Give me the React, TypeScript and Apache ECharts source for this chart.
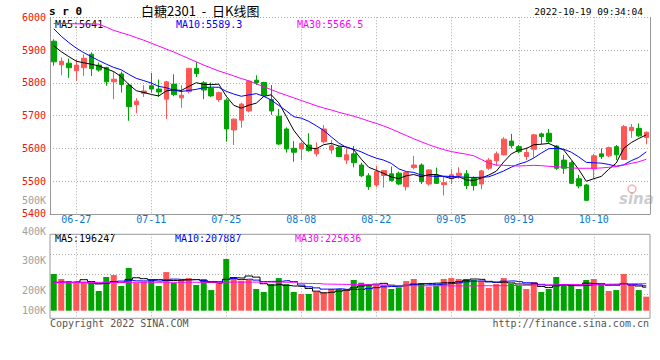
import React, { useEffect, useRef } from 'react';
import * as echarts from 'echarts';

const dates = [
  '06-22','06-23','06-24','06-27','06-28','06-29','06-30','07-01','07-04','07-05',
  '07-06','07-07','07-08','07-11','07-12','07-13','07-14','07-15','07-18','07-19',
  '07-20','07-21','07-22','07-25','07-26','07-27','07-28','07-29','08-01','08-02',
  '08-03','08-04','08-05','08-08','08-09','08-10','08-11','08-12','08-15','08-16',
  '08-17','08-18','08-19','08-22','08-23','08-24','08-25','08-26','08-29','08-30',
  '08-31','09-01','09-02','09-05','09-06','09-07','09-08','09-09','09-13','09-14',
  '09-15','09-16','09-19','09-20','09-21','09-22','09-23','09-26','09-27','09-28',
  '09-29','09-30','10-10','10-11','10-12','10-13','10-14','10-17','10-18','10-19',
];

const labelDates = ['06-27', '07-11', '07-25', '08-08', '08-22', '09-05', '09-19', '10-10'];

const opens = [
  5927,5855,5860,5837,5846,5887,5854,5847,5803,5827,
  5793,5733,5768,5791,5781,5750,5796,5754,5773,5844,
  5800,5783,5749,5747,5656,5686,5714,5808,5801,5749,
  5698,5659,5600,5598,5610,5583,5620,5595,5603,5564,
  5583,5549,5516,5488,5517,5522,5524,5483,5541,5549,
  5491,5519,5489,5507,5517,5522,5509,5491,5539,5562,
  5580,5622,5605,5575,5597,5644,5646,5607,5564,5556,
  5507,5488,5537,5583,5577,5605,5566,5654,5661,5633,
];
const closes = [
  5864,5866,5846,5854,5875,5843,5839,5803,5811,5795,
  5727,5744,5775,5781,5772,5803,5764,5762,5844,5828,
  5778,5760,5770,5659,5689,5735,5805,5801,5762,5714,
  5613,5598,5588,5615,5593,5600,5659,5608,5575,5580,
  5556,5516,5483,5529,5532,5502,5491,5526,5549,5498,
  5534,5493,5495,5519,5524,5486,5486,5531,5564,5583,
  5628,5608,5590,5587,5641,5636,5620,5539,5539,5493,
  5485,5441,5577,5575,5602,5580,5666,5664,5638,5649,
];
const lows = [
  5852,5823,5815,5806,5821,5821,5834,5791,5750,5770,
  5684,5707,5757,5770,5757,5689,5759,5724,5768,5818,
  5750,5757,5742,5620,5610,5663,5710,5793,5757,5702,
  5610,5587,5559,5564,5590,5575,5615,5583,5573,5552,
  5542,5512,5473,5481,5480,5498,5488,5471,5536,5491,
  5486,5491,5456,5491,5507,5476,5471,5475,5534,5546,
  5578,5600,5585,5564,5572,5613,5615,5534,5522,5491,
  5478,5440,5507,5568,5573,5564,5564,5632,5634,5612,
];
const highs = [
  5933,5877,5874,5871,5887,5893,5862,5849,5834,5834,
  5798,5753,5793,5830,5810,5806,5826,5793,5846,5864,
  5805,5801,5773,5752,5691,5739,5808,5823,5803,5793,
  5720,5664,5622,5620,5646,5618,5671,5625,5608,5600,
  5607,5556,5524,5546,5534,5544,5529,5529,5577,5554,
  5536,5541,5514,5536,5542,5534,5514,5534,5570,5590,
  5634,5644,5610,5603,5644,5648,5659,5610,5580,5561,
  5519,5491,5583,5600,5605,5610,5671,5674,5676,5651,
];

const ma5 = [
  5913,5895,5880,5866,5861,5856.8,5851.4,5842.8,5834.2,5818.2,
  5795,5776,5770.4,5764.4,5759.8,5775,5779,5776.4,5789,5800.2,
  5795.2,5794.4,5796,5759,5731.2,5722.6,5731.6,5737.8,5758.4,5763.4,
  5739,5697.6,5655,5625.6,5601.4,5598.8,5611,5615,5607,5604.4,
  5595.6,5567,5542,5532.8,5523.2,5512.4,5507.4,5516,5520,5513.2,
  5519.6,5520,5513.8,5507.8,5513,5503.4,5502,5509.2,5518.2,5530,
  5558.4,5582.8,5594.6,5599.2,5610.8,5612.4,5614.8,5604.6,5595,5565.4,
  5535.2,5499.4,5507,5514.2,5536,5555,5600,5617.4,5630,5641,
];
const ma10 = [
  5965,5942,5923,5906,5892,5880,5868,5857,5847,5839.6,
  5825.9,5813.7,5806.6,5799.3,5789,5785,5777.5,5773.4,5776.7,5780,
  5785.1,5786.7,5786.2,5774,5765.7,5758.9,5763,5766.9,5758.7,5747.3,
  5730.8,5714.6,5696.4,5692,5682.4,5668.9,5654.3,5635,5616.3,5602.9,
  5597.2,5589,5578.5,5569.9,5563.8,5554,5537.2,5529,5526.4,5518.2,
  5516,5513.7,5514.9,5513.9,5513.1,5511.5,5511,5511.5,5513,5521.5,
  5530.9,5542.4,5551.9,5558.7,5570.4,5585.4,5598.8,5599.6,5597.1,5588.1,
  5573.8,5557.1,5555.8,5554.6,5550.7,5545.1,5549.7,5562.2,5572.1,5589.3,
];
const ma30 = [
  5981,5981,5981,5980,5980,5980,5979,5970,5960,5953,
  5946,5938,5930,5921,5912,5903,5894,5884,5874,5864,
  5854,5845,5836,5829,5821,5813,5806,5797,5788,5779,
  5770,5762,5754,5746,5738,5730,5723,5717,5710,5704,
  5698,5691,5683,5676,5668,5659,5649,5639,5629,5620,
  5611,5603,5596,5590,5586,5582,5577,5566,5555,5549,
  5548,5547,5546,5547,5548,5547,5545,5544,5542,5540,
  5539,5539,5539,5540,5542,5544,5549,5554,5559,5566.5,
];

// volume, thousands of lots
const volumes = [
  306,264,247,233,242,228,164,281,297,206,
  356,233,242,256,206,322,233,256,272,214,
  264,172,228,431,281,250,256,181,156,222,
  272,222,156,139,139,158,153,181,181,181,
  256,233,222,214,214,181,195,247,264,231,
  200,206,264,272,264,264,256,250,189,222,
  272,225,206,181,239,156,181,281,222,208,
  181,256,264,214,164,172,306,214,172,117,
];
const volMa5 = [
  236,238,236,240,258.4,242.8,222.8,229.6,242.4,235.2,
  260.8,274.6,266.8,258.6,258.6,251.8,251.8,254.6,257.8,259.4,
  247.8,235.6,230,261.8,275.2,272.4,289.2,279.8,224.8,213,
  217.4,210.6,205.6,202.2,185.6,162.8,149,154,162.4,170.8,
  190.4,206.4,214.6,221.2,227.8,212.8,205.2,210.2,220.2,223.6,
  227.4,229.6,233,234.6,241.2,254,264,261.2,244.6,236.2,
  237.8,231.6,222.8,221.2,224.6,201.4,192.6,207.6,215.8,209.6,
  214.6,229.6,226.2,224.6,215.8,214,224,214,205.6,196.247,
];
const volMa10 = [
  236,236,236,236,236,230,228,234,240,246.8,
  251.8,248.7,248.2,250.5,246.9,256.3,263.2,260.7,258.2,259,
  249.8,243.7,242.3,259.8,267.3,260.1,262.4,254.9,243.3,244.1,
  244.9,249.9,242.7,213.5,199.3,190.1,179.8,179.8,182.3,178.2,
  176.6,177.7,184.3,191.8,199.3,201.6,205.8,212.4,220.7,225.7,
  220.1,217.4,221.6,227.4,232.4,240.7,246.8,247.1,239.6,238.7,
  245.9,247.8,242,232.9,230.4,219.6,212.1,215.2,218.5,217.1,
  208,211.1,216.9,220.2,212.7,214.3,226.8,220.1,215.1,207.887,
];
const volMa30 = [
  234,234,235,235,235,236,236,236,236,236,
  236,237,237,237,237,237,237,237,237,237,
  237,237,237,238,238,238,238,238,238,238,
  238,237,237,228,227,226,222,221,220,219,
  218,218,217,215,214,210,209,209,208,208,
  208,208,207,207,207,207,207,208,208,208,
  209,210,211,212,213,214,215,216,217,218,
  218,219,220,220,221,222,223,224,225,225.636,
];

const volTickLabels = ['500K', '400K', '300K', '200K', '100K'];

const RED = '#ff5656';
const GREEN = '#00a400';
const GRID = '#aaaaaa';
const AXIS = '#999999';
const MONO = '"DejaVu Sans Mono", monospace';

export default function App() {
  const ref = useRef<HTMLDivElement>(null);

  useEffect(() => {
    const chart = echarts.init(ref.current as HTMLDivElement, null, { renderer: 'svg' });
    const isLabel = (i: number) => labelDates.indexOf(dates[i]) >= 0;
    const candleData = dates.map((_, i) => [opens[i], closes[i], lows[i], highs[i]]);
    const volData = volumes.map((v, i) => ({
      value: v,
      itemStyle: { color: closes[i] >= opens[i] ? RED : GREEN },
    }));
    const dotted = { color: GRID, type: [1, 2] as number[], width: 1 };
    const volLabelY = [200, 231, 260.7, 290, 310.5];
    const last = dates.length - 1;

    const text = (t: string, x: number, y: number, fill: string, font: string, align = 'left') => ({
      type: 'text',
      x,
      y,
      silent: true,
      style: { text: t, fill, font, align, verticalAlign: 'middle' },
    });

    const lineSeries = (data: number[], color: string, xi: number, yi: number, step?: string) => ({
      type: 'line',
      data,
      xAxisIndex: xi,
      yAxisIndex: yi,
      symbol: 'none',
      step: step || false,
      lineStyle: { color, width: 1 },
      silent: true,
      z: 5,
    });

    chart.setOption({
      animation: false,
      backgroundColor: '#ffffff',
      grid: [
        { left: 50, top: 17.3, width: 600, height: 196.5 },
        { left: 50, top: 234.3, width: 600, height: 84, show: true, borderColor: AXIS, borderWidth: 1, backgroundColor: 'transparent' },
        { left: 50, top: 234.3, width: 600, height: 60 },
      ],
      xAxis: [
        {
          type: 'category', gridIndex: 0, data: dates, boundaryGap: true,
          axisLine: { show: true, lineStyle: { color: AXIS, width: 1 } },
          axisTick: { show: false },
          axisLabel: { interval: (i: number) => isLabel(i), color: '#0a78d0', fontFamily: MONO, fontSize: 10, margin: 1 },
          splitLine: { show: true, interval: (i: number) => isLabel(i), alignWithLabel: true, lineStyle: dotted },
        },
        {
          type: 'category', gridIndex: 1, data: dates, boundaryGap: true,
          axisLine: { show: false }, axisTick: { show: false }, axisLabel: { show: false },
          splitLine: { show: true, interval: (i: number) => isLabel(i), alignWithLabel: true, lineStyle: dotted },
        },
        { type: 'category', gridIndex: 2, data: dates, show: false },
      ],
      yAxis: [
        {
          type: 'value', gridIndex: 0, min: 5400, max: 6000, interval: 100,
          axisLine: { show: true, lineStyle: { color: AXIS, width: 1 } },
          axisTick: { show: false },
          axisLabel: {
            color: '#ee1111', fontFamily: MONO, fontSize: 10, margin: 4, padding: [0, 0, 3, 0],
            formatter: (v: number) => String(v),
          },
          splitLine: { show: true, lineStyle: dotted },
        },
        {
          type: 'value', gridIndex: 0, position: 'right', min: 5400, max: 6000,
          axisLine: { show: true, lineStyle: { color: AXIS, width: 1 } },
          axisTick: { show: false }, axisLabel: { show: false }, splitLine: { show: false },
        },
        { type: 'value', gridIndex: 1, min: -63.333, max: 636.667, show: false },
        {
          type: 'value', gridIndex: 2, inverse: true, min: 0, max: 60, interval: 20,
          axisLine: { show: false }, axisTick: { show: false }, axisLabel: { show: false },
          splitLine: { show: true, lineStyle: dotted },
        },
      ],
      series: [
        {
          type: 'candlestick', xAxisIndex: 0, yAxisIndex: 0, data: candleData, barWidth: 5,
          silent: true,
          itemStyle: { color: RED, color0: GREEN, borderColor: RED, borderColor0: GREEN, borderWidth: 1 },
        },
        lineSeries(ma5, '#000000', 0, 0),
        lineSeries(ma10, '#0000ff', 0, 0),
        lineSeries(ma30, '#ff00ff', 0, 0),
        { type: 'bar', xAxisIndex: 1, yAxisIndex: 2, data: volData, barWidth: 6, silent: true },
        lineSeries(volMa5, '#000000', 1, 2, 'middle'),
        lineSeries(volMa10, '#0000ff', 1, 2, 'middle'),
        lineSeries(volMa30, '#ff00ff', 1, 2, 'middle'),
      ],
      graphic: [
        text('s r 0', 49, 11.5, '#000', `bold 11px ${MONO}`),
        text('白糖2301  -  日K线图', 141, 10.5, '#000', '13px "Noto Sans CJK SC"'),
        text('2022-10-19 09:34:04', 643, 11.5, '#000', `9.5px ${MONO}`, 'right'),
        text(`MA5:${ma5[last]}`, 55, 24, '#000', `10px ${MONO}`),
        text(`MA10:${ma10[last].toFixed(1)}`, 176, 24, '#0000ff', `10px ${MONO}`),
        text(`MA30:${ma30[last].toFixed(1)}`, 297, 24, '#ff00ff', `10px ${MONO}`),
        text(`MA5:${Math.round(volMa5[last] * 1000)}`, 55, 238.5, '#000', `10px ${MONO}`),
        text(`MA10:${Math.round(volMa10[last] * 1000)}`, 175, 238.5, '#0000ff', `10px ${MONO}`),
        text(`MA30:${Math.round(volMa30[last] * 1000)}`, 295, 238.5, '#ff00ff', `10px ${MONO}`),
        ...volTickLabels.map((t, k) => text(t, 46, volLabelY[k], '#a0a0a0', `10px ${MONO}`, 'right')),
        text('Copyright 2022 SINA.COM', 50, 323.5, '#555', `10px ${MONO}`),
        text('http://finance.sina.com.cn', 649, 323.5, '#555', `10px ${MONO}`, 'right'),
        {
          type: 'circle', silent: true, shape: { cx: 632, cy: 189, r: 4 },
          style: { fill: 'none', stroke: 'rgba(235,120,120,0.55)', lineWidth: 1.5 },
        },
        text('sina', 619, 199, 'rgba(170,170,170,0.6)', `italic bold 15px "DejaVu Sans"`),
      ],
    });

    return () => chart.dispose();
  }, []);

  return (
    <div
      ref={ref}
      style={{ position: 'fixed', left: 0, top: 0, width: 660, height: 360, background: '#fff' }}
    />
  );
}
